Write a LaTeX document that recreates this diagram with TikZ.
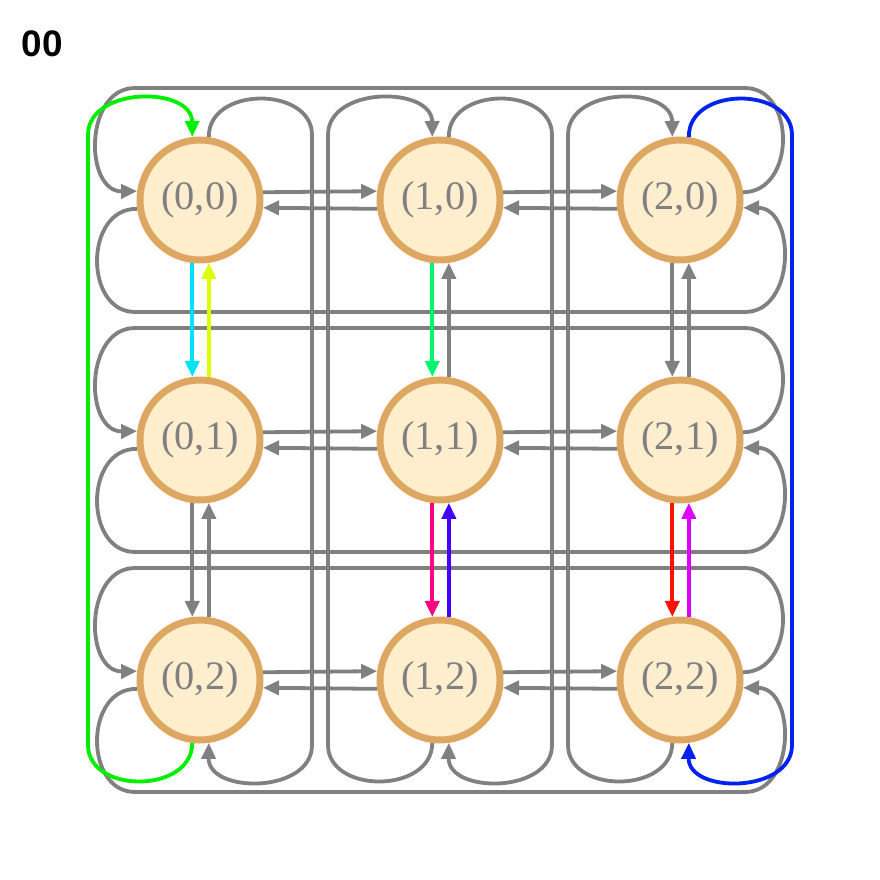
\documentclass[tikz,border=0pt]{standalone}
\usepackage{fontspec}
\setmainfont{Liberation Serif}
\newfontfamily\titlefont{Liberation Sans}
\usetikzlibrary{arrows.meta}

\definecolor{linkgray}{RGB}{128,128,128}
\definecolor{statefill}{RGB}{255,238,206}
\definecolor{stateborder}{RGB}{221,167,98}

\begin{document}
\begin{tikzpicture}[x=0.1mm, y=-0.1mm,
    state/.style={circle, draw=stateborder, fill=statefill, line width=0.7mm, minimum size=12mm, inner sep=0pt, text=linkgray, font=\fontsize{11.5}{13}\selectfont},
    link/.style={color=linkgray, line width=0.38mm, -{Triangle[length=1.6mm, width=1.4mm]}},
    % coloured transitions
    e00-01/.style={color={rgb,255:red,0;green,225;blue,255}},
    e01-00/.style={color={rgb,255:red,221;green,255;blue,0}},
    e10-11/.style={color={rgb,255:red,0;green,245;blue,110}},
    e11-12/.style={color={rgb,255:red,255;green,0;blue,128}},
    e12-11/.style={color={rgb,255:red,68;green,0;blue,255}},
    e21-22/.style={color={rgb,255:red,255;green,17;blue,0}},
    e22-21/.style={color={rgb,255:red,221;green,0;blue,255}},
    e02-00/.style={color={rgb,255:red,0;green,238;blue,0}},
    e20-22/.style={color={rgb,255:red,0;green,34;blue,238}},
]
\useasboundingbox (0,0) rectangle (880,880);

\node[anchor=base west, inner sep=0pt, font=\titlefont\bfseries\fontsize{10.5}{12}\selectfont] (frame) at (21,57) {00};

% States
\foreach \i in {0,1,2} {
    \foreach \j in {0,1,2} {
        \node[state] (n\i\j) at (200+240*\i, 200+240*\j) {(\i,\j)};
    }
}

% Wrap-around rows
\foreach \j in {0,1,2} {
    \pgfmathsetmacro{\y}{200+240*\j}
    \draw[link, e2\j-0\j/.try] (n2\j.7.2) .. controls (796,\y-8) and (796,\y-112) .. (745,\y-112)
        -- (135,\y-112) .. controls (84,\y-112) and (84,\y-8) .. (n0\j.172.8);
    \draw[link, e0\j-2\j/.try] (n0\j.-172.8) .. controls (84,\y+8) and (84,\y+112) .. (135,\y+112)
        -- (745,\y+112) .. controls (796,\y+112) and (796,\y+8) .. (n2\j.-7.2);
}

% Wrap-around columns
\foreach \i in {0,1,2} {
    \pgfmathsetmacro{\x}{200+240*\i}
    \draw[link, e\i2-\i0/.try] (n\i2.-97.2) .. controls (\x-8,794) and (\x-112,794) .. (\x-112,745)
        -- (\x-112,135) .. controls (\x-112,86) and (\x-8,86) .. (n\i0.97.2);
    \draw[link, e\i0-\i2/.try] (n\i0.82.8) .. controls (\x+8,86) and (\x+112,86) .. (\x+112,135)
        -- (\x+112,745) .. controls (\x+112,794) and (\x+8,794) .. (n\i2.-82.8);
}

% Neighbour transitions
\foreach \a/\b in {0/1,1/2} {
    \foreach \c in {0,1,2} {
        \draw[link, e\a\c-\b\c/.try] (n\a\c.7.2) -- (n\b\c.172.8);
        \draw[link, e\b\c-\a\c/.try] (n\b\c.-172.8) -- (n\a\c.-7.2);
        \draw[link, e\c\a-\c\b/.try] (n\c\a.-97.2) -- (n\c\b.97.2);
        \draw[link, e\c\b-\c\a/.try] (n\c\b.82.8) -- (n\c\a.-82.8);
    }
}

\end{tikzpicture}
\end{document}
